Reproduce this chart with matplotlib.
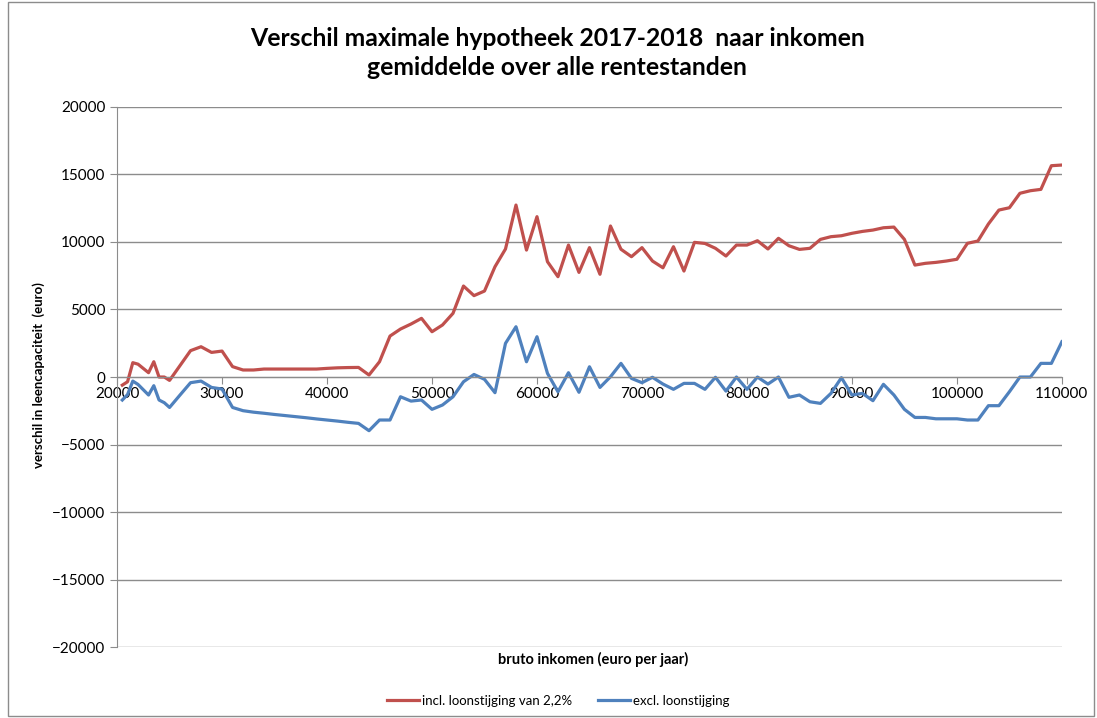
import numpy as np
import matplotlib.pyplot as plt
from matplotlib.patches import Rectangle

plt.rcParams['font.family'] = ['Lato', 'DejaVu Sans']

inkomen = [20500, 21000, 21500, 22000, 23000, 23500, 24000, 24500, 25000, 26000,
           27000, 28000, 29000, 30000, 31000, 32000, 33000, 34000, 35000, 36000,
           37000, 38000, 39000, 40000, 41000, 42000, 43000, 44000, 45000, 46000,
           47000, 48000, 49000, 50000, 51000, 52000, 53000, 54000, 55000, 56000,
           57000, 58000, 59000, 60000, 61000, 62000, 63000, 64000, 65000, 66000,
           67000, 68000, 69000, 70000, 71000, 72000, 73000, 74000, 75000, 76000,
           77000, 78000, 79000, 80000, 81000, 82000, 83000, 84000, 85000, 86000,
           87000, 88000, 89000, 90000, 91000, 92000, 93000, 94000, 95000, 96000,
           97000, 98000, 99000, 100000, 101000, 102000, 103000, 104000, 105000, 106000,
           107000, 108000, 109000, 110000]

incl = [-600, -350, 1060, 950, 320, 1130, 0, 0, -250, 850,
        1950, 2240, 1820, 1920, 770, 520, 520, 590, 590, 590,
        590, 590, 590, 640, 680, 700, 710, 150, 1130, 3030,
        3550, 3920, 4340, 3350, 3850, 4710, 6730, 6020, 6360, 8160,
        9470, 12720, 9390, 11860, 8530, 7420, 9760, 7740, 9570, 7600,
        11170, 9450, 8900, 9570, 8580, 8080, 9640, 7840, 9960, 9880,
        9520, 8950, 9760, 9760, 10080, 9470, 10260, 9710, 9440, 9520,
        10180, 10380, 10450, 10630, 10770, 10870, 11040, 11090, 10180, 8280,
        8410, 8480, 8580, 8710, 9890, 10060, 11320, 12350, 12520, 13590,
        13780, 13880, 15630, 15680]

excl = [-1700, -1300, -300, -550, -1330, -640, -1700, -1900, -2250, -1330,
        -420, -300, -770, -890, -2250, -2490, -2600, -2680, -2770, -2850,
        -2930, -3010, -3100, -3180, -3260, -3350, -3430, -3970, -3180, -3180,
        -1460, -1780, -1700, -2390, -2070, -1460, -350, 190, -170, -1160,
        2490, 3720, 1130, 2980, 270, -1090, 320, -1130, 760, -770,
        20, 1010, -100, -420, -20, -520, -910, -470, -470, -910,
        -20, -1040, 0, -910, 0, -520, 0, -1500, -1330, -1830,
        -1950, -1210, -50, -1330, -1210, -1750, -540, -1330, -2390, -2990,
        -2990, -3090, -3090, -3090, -3180, -3180, -2120, -2120, -1090, 0,
        0, 1010, 1010, 2610]

fig = plt.figure(figsize=(10.97, 7.18), dpi=100)
ax = fig.add_axes([0.1067, 0.0983, 0.8613, 0.7532])

ax.plot(inkomen, incl, color='#C0504D', lw=2.3, label='incl. loonstijging van 2,2%')
ax.plot(inkomen, excl, color='#4F81BD', lw=2.3, label='excl. loonstijging')

ax.set_xlim(20000, 110000)
ax.set_ylim(-20000, 20000)
ax.set_xticks(np.arange(20000, 110001, 10000))
ax.set_yticks(np.arange(-20000, 20001, 5000))
ax.yaxis.grid(True, color='#8c8c8c', lw=1)
ax.set_axisbelow(True)

for s in ['top', 'right']:
    ax.spines[s].set_visible(False)
ax.spines['bottom'].set_position(('data', 0))
ax.spines['bottom'].set_color('#8c8c8c')
ax.spines['left'].set_color('#8c8c8c')
ax.tick_params(axis='both', colors='#8c8c8c', labelcolor='black', labelsize=11, length=5)
ax.tick_params(axis='x', pad=2)

fig.suptitle('Verschil maximale hypotheek 2017-2018  naar inkomen\ngemiddelde over alle rentestanden',
             x=0.508, y=0.962, fontsize=17.8, fontweight='bold', linespacing=1.3)
fig.text(0.541, 0.081, 'bruto inkomen (euro per jaar)', ha='center', va='center',
         fontsize=10.5, fontweight='bold')
fig.text(0.035, 0.478, 'verschil in leencapaciteit  (euro)', ha='center', va='center',
         rotation=90, fontsize=9.5, fontweight='bold')

fig.legend(loc='center', bbox_to_anchor=(0.509, 0.024), ncol=2, frameon=False,
           fontsize=9.5, handlelength=2.4, handletextpad=0.25, columnspacing=2.0)

fig.patches.append(Rectangle((0.007, 0.003), 0.99, 0.994, transform=fig.transFigure,
                             fill=False, edgecolor='#8c8c8c', lw=1))

fig.savefig('out.png', dpi=100)
